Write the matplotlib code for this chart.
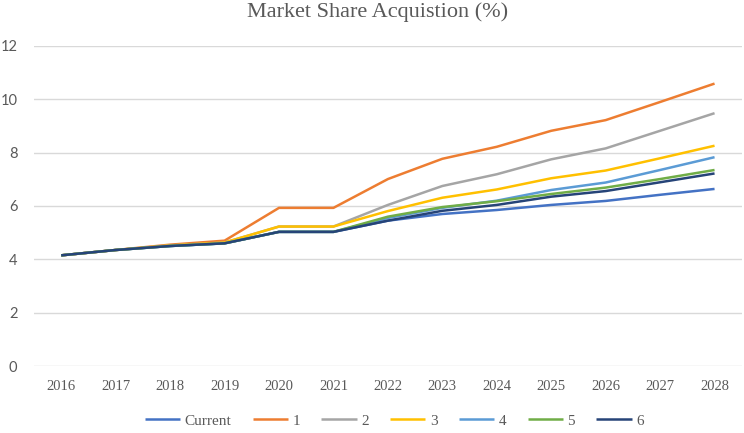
import matplotlib
matplotlib.use("Agg")
import matplotlib.pyplot as plt

years = [2016, 2017, 2018, 2019, 2020, 2021, 2022, 2023, 2024, 2025, 2026, 2027, 2028]

current = [4.15, 4.35, 4.50, 4.60, 5.03, 5.03, 5.45, 5.70, 5.85, 6.04, 6.19, 6.42, 6.64]
s1 = [4.15, 4.35, 4.55, 4.70, 5.93, 5.93, 7.01, 7.77, 8.22, 8.82, 9.22, 9.90, 10.59]
s2 = [4.15, 4.35, 4.52, 4.63, 5.23, 5.23, 6.04, 6.75, 7.19, 7.75, 8.16, 8.82, 9.48]
s3 = [4.15, 4.35, 4.52, 4.63, 5.23, 5.23, 5.81, 6.31, 6.62, 7.04, 7.33, 7.79, 8.26]
s4 = [4.15, 4.35, 4.50, 4.60, 5.03, 5.03, 5.55, 5.93, 6.20, 6.60, 6.88, 7.35, 7.83]
s5 = [4.15, 4.35, 4.50, 4.60, 5.03, 5.03, 5.60, 5.96, 6.18, 6.45, 6.69, 7.01, 7.35]
s6 = [4.15, 4.35, 4.50, 4.60, 5.03, 5.03, 5.45, 5.82, 6.04, 6.35, 6.56, 6.89, 7.22]

names = ["Current", "1", "2", "3", "4", "5", "6"]
series = [current, s1, s2, s3, s4, s5, s6]
colors = ["#4472C4", "#ED7D31", "#A5A5A5", "#FFC000", "#5B9BD5", "#70AD47", "#264478"]

fig = plt.figure(figsize=(7.44, 4.33), dpi=100)
ax = fig.add_axes([0.0457, 0.1547, 0.9513, 0.7391])

for name, vals, c in zip(names, series, colors):
    ax.plot(years, vals, color=c, lw=1.8, label=name, solid_capstyle="butt")

ax.set_xlim(2015.5, 2028.5)
ax.set_ylim(0, 12)
ax.set_yticks(range(0, 13, 2))
ax.set_xticks(years)
ax.grid(axis="y", color="#D9D9D9", lw=1)
ax.set_axisbelow(True)
for sp in ax.spines.values():
    sp.set_visible(False)
ax.tick_params(length=0)
ax.tick_params(axis="x", pad=10)
ax.tick_params(axis="y", pad=12)
for lab in ax.get_xticklabels():
    lab.set_fontfamily("Liberation Serif")
    lab.set_fontsize(10.5)
    lab.set_color("#595959")
for lab in ax.get_yticklabels():
    lab.set_fontfamily("Lato")
    lab.set_fontsize(10.5)
    lab.set_color("#595959")

fig.text(0.508, 0.972, "Market Share Acquistion (%)", ha="center", va="center",
         fontfamily="Liberation Serif", fontsize=16, color="#595959")

leg = fig.legend(loc="center", bbox_to_anchor=(0.53, 0.028), ncol=7, frameon=False,
                 prop={"family": "Liberation Serif", "size": 11},
                 handlelength=2.3, handletextpad=0.3, columnspacing=1.4)
for t in leg.get_texts():
    t.set_color("#595959")

fig.savefig("out.png", dpi=100)
